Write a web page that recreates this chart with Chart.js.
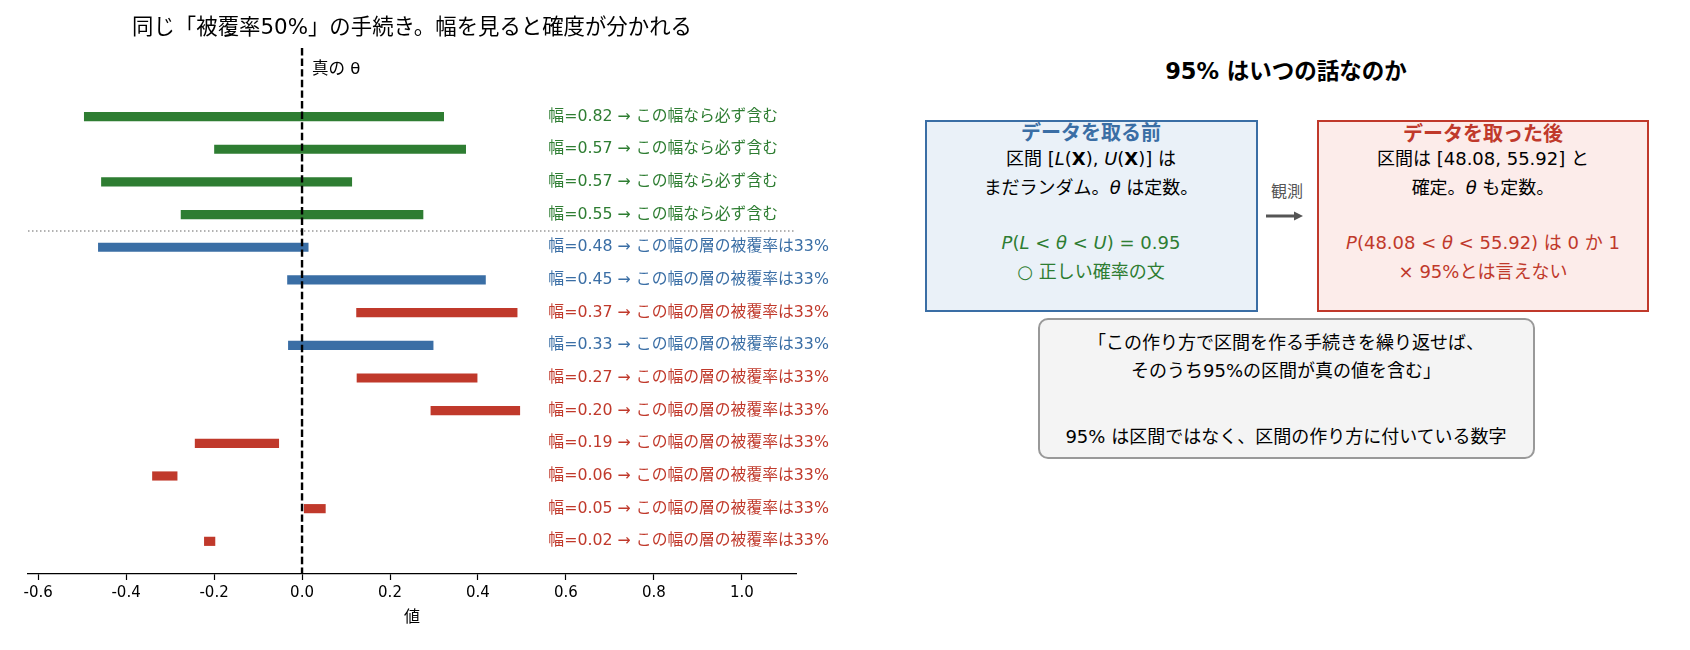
<!DOCTYPE html>
<html lang="ja">
<head>
<meta charset="utf-8">
<script src="https://cdn.jsdelivr.net/npm/chart.js@4.4.1/dist/chart.umd.min.js"></script>
<style>
  html, body { margin: 0; padding: 0; background: #fff; }
  body { width: 1690px; height: 650px; position: relative; overflow: hidden;
         font-family: "DejaVu Sans", "Noto Sans CJK JP", sans-serif; color: #000; }
  #area-grafico { position: absolute; left: 0; top: 0; width: 850px; height: 650px; }
  .t { position: absolute; transform: translate(-50%, -50%); white-space: nowrap; line-height: 1; font-size: 18px; }
  .caixa { position: absolute; box-sizing: border-box; }
  .verde { color: #2e7d32; }
  .vermelho { color: #c0392b; }
</style>
</head>
<body>
<div id="area-grafico"><canvas id="grafico-intervalos" width="850" height="650"></canvas></div>

<div class="t" style="left:1286px; top:71px; font-size:22.5px; font-weight:bold;">95% はいつの話なのか</div>

<div class="caixa" style="left:925px; top:120px; width:333px; height:192px; border:2px solid #3a6ea5; background:#eaf1f8;"></div>
<div class="t" style="left:1091px; top:133px; font-size:20px; font-weight:bold; color:#3a6ea5;">データを取る前</div>
<div class="t" style="left:1091px; top:159px;">区間 [<i>L</i>(<b>X</b>), <i>U</i>(<b>X</b>)] は</div>
<div class="t" style="left:1091px; top:188px;">まだランダム。<i>θ</i> は定数。</div>
<div class="t verde" style="left:1091px; top:243px;"><i>P</i>(<i>L</i> &lt; <i>θ</i> &lt; <i>U</i>) = 0.95</div>
<div class="t verde" style="left:1091px; top:272px;">○ 正しい確率の文</div>

<div class="t" style="left:1287px; top:192px; font-size:16px; color:#555;">観測</div>
<svg style="position:absolute; left:1262px; top:206px;" width="46" height="20">
  <line x1="4" y1="10" x2="34" y2="10" stroke="#555" stroke-width="3"/>
  <polygon points="32,5.5 41,10 32,14.5" fill="#555"/>
</svg>

<div class="caixa" style="left:1317px; top:120px; width:332px; height:192px; border:2px solid #c0392b; background:#fcecea;"></div>
<div class="t" style="left:1483px; top:134px; font-size:20px; font-weight:bold; color:#c0392b;">データを取った後</div>
<div class="t" style="left:1483px; top:159px;">区間は [48.08, 55.92] と</div>
<div class="t" style="left:1483px; top:188px;">確定。<i>θ</i> も定数。</div>
<div class="t vermelho" style="left:1483px; top:243px;"><i>P</i>(48.08 &lt; <i>θ</i> &lt; 55.92) は 0 か 1</div>
<div class="t vermelho" style="left:1483px; top:272px;">× 95%とは言えない</div>

<div class="caixa" style="left:1038px; top:318px; width:497px; height:141px; border:2px solid #999; border-radius:10px; background:#f4f4f4;"></div>
<div class="t" style="left:1286px; top:343px;">「この作り方で区間を作る手続きを繰り返せば、</div>
<div class="t" style="left:1286px; top:371px;">そのうち95%の区間が真の値を含む」</div>
<div class="t" style="left:1286px; top:437px;">95% は区間ではなく、区間の作り方に付いている数字</div>

<script>
const ctx = document.getElementById('grafico-intervalos').getContext('2d');
const fonte = '"DejaVu Sans", "Noto Sans CJK JP", sans-serif';

const tituloGrafico = '同じ「被覆率50%」の手続き。幅を見ると確度が分かれる';

// intervalos (de cima para baixo)
const limiteInferior = [-0.495, -0.199, -0.456, -0.275, -0.463, -0.033, 0.124, -0.031, 0.125, 0.293, -0.243, -0.340, 0.005, -0.222];
const limiteSuperior = [0.322, 0.372, 0.113, 0.275, 0.014, 0.417, 0.489, 0.298, 0.398, 0.495, -0.053, -0.284, 0.053, -0.198];
const larguras = ['0.82', '0.57', '0.57', '0.55', '0.48', '0.45', '0.37', '0.33', '0.27', '0.20', '0.19', '0.06', '0.05', '0.02'];
const grupos = ['sempre', 'sempre', 'sempre', 'sempre', 'acerta', 'acerta', 'erra', 'acerta', 'erra', 'erra', 'erra', 'erra', 'erra', 'erra'];

const coresGrupo = { sempre: '#2e7d32', acerta: '#3a6ea5', erra: '#c0392b' };
const notasGrupo = { sempre: 'この幅なら必ず含む', acerta: 'この幅の層の被覆率は33%', erra: 'この幅の層の被覆率は33%' };

const ticksX = [-0.6, -0.4, -0.2, 0.0, 0.2, 0.4, 0.6, 0.8, 1.0];
const thetaVerdadeiro = 0;
const posicaoNotas = 0.56;

const anotacoes = {
    id: 'anotacoes',
    afterDatasetsDraw(chart) {
        const { ctx, chartArea, scales } = chart;
        const x = scales.x, y = scales.y;
        ctx.save();

        // separador entre os dois grupos
        const ySep = y.getPixelForValue(3.5);
        ctx.strokeStyle = '#999';
        ctx.lineWidth = 1.5;
        ctx.setLineDash([1.5, 2.5]);
        ctx.beginPath();
        ctx.moveTo(chartArea.left, ySep);
        ctx.lineTo(chartArea.right, ySep);
        ctx.stroke();

        // valor verdadeiro
        const x0 = x.getPixelForValue(thetaVerdadeiro);
        ctx.strokeStyle = '#000';
        ctx.lineWidth = 2.4;
        ctx.setLineDash([7.4, 3.2]);
        ctx.beginPath();
        ctx.moveTo(x0, chartArea.top);
        ctx.lineTo(x0, chartArea.bottom);
        ctx.stroke();
        ctx.setLineDash([]);

        ctx.fillStyle = '#000';
        ctx.font = '16.5px ' + fonte;
        ctx.textAlign = 'left';
        ctx.textBaseline = 'middle';
        ctx.fillText('真の θ', x0 + 10, y.getPixelForValue(-1.43));

        // texto ao lado de cada intervalo
        ctx.font = '15.8px ' + fonte;
        const xt = x.getPixelForValue(posicaoNotas);
        larguras.forEach((w, i) => {
            ctx.fillStyle = coresGrupo[grupos[i]];
            ctx.fillText('幅=' + w + ' → ' + notasGrupo[grupos[i]], xt, y.getPixelForValue(i));
        });
        ctx.restore();
    }
};

const chart = new Chart(ctx, {
    type: 'bar',
    data: {
        datasets: [{
            data: limiteInferior.map((lo, i) => ({ x: [lo, limiteSuperior[i]], y: i })),
            backgroundColor: grupos.map(g => coresGrupo[g]),
            borderWidth: 0,
            borderSkipped: false,
            barThickness: 8.5,
        }],
    },
    options: {
        responsive: false,
        animation: false,
        indexAxis: 'y',
        layout: { padding: { left: 28, right: 54, top: 0, bottom: 0 } },
        plugins: {
            legend: { display: false },
            tooltip: { enabled: false },
            title: {
                display: true,
                text: tituloGrafico,
                color: '#000',
                font: { family: fonte, size: 21.4, weight: 'normal' },
                padding: { top: 16, bottom: 6.3 },
            },
        },
        scales: {
            x: {
                type: 'linear',
                min: -0.623,
                max: 1.123,
                afterBuildTicks: (s) => { s.ticks = ticksX.map(v => ({ value: v })); },
                afterFit: (s) => { s.height = 76; },
                ticks: {
                    color: '#000',
                    font: { family: fonte, size: 15 },
                    padding: 4,
                    callback: (v) => Number(v).toFixed(1),
                },
                grid: { display: true, drawOnChartArea: false, drawTicks: true, tickLength: 6, color: '#000', tickWidth: 1.2 },
                border: { display: true, color: '#000', width: 1.3 },
                title: {
                    display: true,
                    text: '値',
                    color: '#000',
                    font: { family: fonte, size: 16 },
                    padding: { top: 0, bottom: 23 },
                },
            },
            y: {
                type: 'linear',
                min: -2.1,
                max: 14,
                reverse: true,
                offset: false,
                display: false,
            },
        },
    },
    plugins: [anotacoes],
});
</script>
</body>
</html>
